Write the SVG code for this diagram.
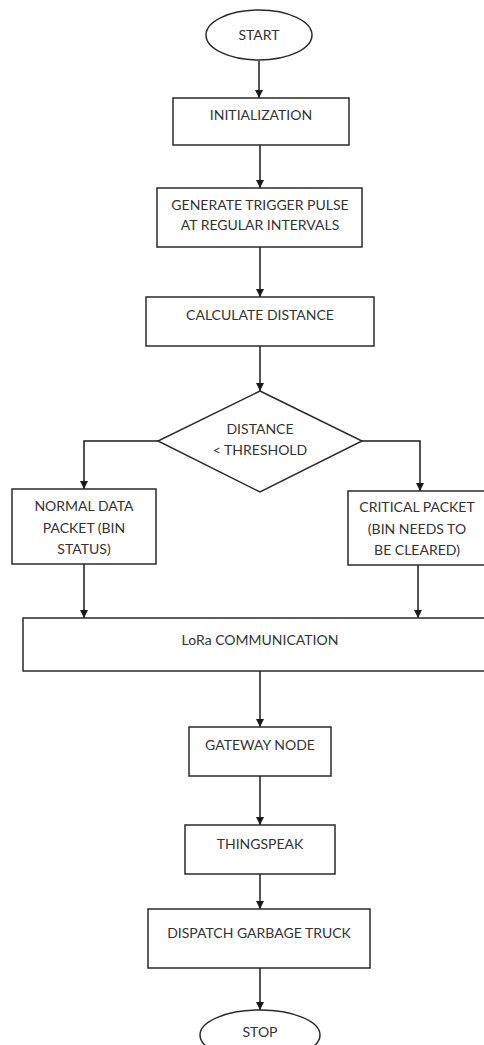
<svg xmlns="http://www.w3.org/2000/svg" width="484" height="1045" viewBox="0 0 484 1045">
<style>
.s{fill:#fff;stroke:#2a2a2a;stroke-width:1.5}
.t{font-family:Lato,"Liberation Sans",sans-serif;font-size:14px;fill:#333;text-anchor:middle}
.c{fill:none;stroke:#1a1a1a;stroke-width:1.5}
</style>
<defs>
<marker id="a" viewBox="0 0 8 10" refX="8" refY="5" markerWidth="8" markerHeight="10" markerUnits="userSpaceOnUse" orient="auto">
<path d="M0,1 L8,5 L0,9 Z" fill="#1a1a1a"/>
</marker>
</defs>
<rect width="484" height="1045" fill="#fff"/>
<g id="connectors">
<line class="c" x1="259" y1="61" x2="259" y2="98" marker-end="url(#a)"/>
<line class="c" x1="260" y1="145" x2="260" y2="188" marker-end="url(#a)"/>
<line class="c" x1="260" y1="247" x2="260" y2="297" marker-end="url(#a)"/>
<line class="c" x1="260" y1="346" x2="260" y2="391" marker-end="url(#a)"/>
<polyline class="c" points="158,441 84,441 84,489" marker-end="url(#a)"/>
<polyline class="c" points="362,441 420,441 420,491" marker-end="url(#a)"/>
<line class="c" x1="84" y1="564" x2="84" y2="618" marker-end="url(#a)"/>
<line class="c" x1="418" y1="565" x2="418" y2="618" marker-end="url(#a)"/>
<line class="c" x1="260" y1="671" x2="260" y2="727" marker-end="url(#a)"/>
<line class="c" x1="260" y1="776" x2="260" y2="825" marker-end="url(#a)"/>
<line class="c" x1="260" y1="874" x2="260" y2="909" marker-end="url(#a)"/>
<line class="c" x1="260" y1="968" x2="260" y2="1010" marker-end="url(#a)"/>
</g>
<g id="start">
<ellipse class="s" cx="259" cy="35" rx="53" ry="25"/>
<text class="t" x="259" y="40">START</text>
</g>
<g id="init">
<rect class="s" x="173" y="98" width="176" height="47"/>
<text class="t" x="261" y="120">INITIALIZATION</text>
</g>
<g id="generate">
<rect class="s" x="157" y="188" width="205" height="59"/>
<text class="t" x="260" y="210">GENERATE TRIGGER PULSE</text>
<text class="t" x="260" y="230">AT REGULAR INTERVALS</text>
</g>
<g id="calculate">
<rect class="s" x="146" y="297" width="228" height="49"/>
<text class="t" x="260" y="320">CALCULATE DISTANCE</text>
</g>
<g id="decision">
<polygon class="s" points="260,391 362,441 260,492 158,441"/>
<text class="t" x="260" y="434">DISTANCE</text>
<text class="t" x="260" y="455">&lt; THRESHOLD</text>
</g>
<g id="normal">
<rect class="s" x="12" y="489" width="144" height="75"/>
<text class="t" x="84" y="511">NORMAL DATA</text>
<text class="t" x="84" y="533">PACKET (BIN</text>
<text class="t" x="84" y="554">STATUS)</text>
</g>
<g id="critical">
<rect class="s" x="348" y="491" width="140" height="74"/>
<text class="t" x="417" y="512">CRITICAL PACKET</text>
<text class="t" x="417" y="534">(BIN NEEDS TO</text>
<text class="t" x="417" y="555">BE CLEARED)</text>
</g>
<g id="lora">
<rect class="s" x="23" y="618" width="465" height="53"/>
<text class="t" x="260" y="645">LoRa COMMUNICATION</text>
</g>
<g id="gateway">
<rect class="s" x="189" y="727" width="142" height="49"/>
<text class="t" x="260" y="750">GATEWAY NODE</text>
</g>
<g id="thingspeak">
<rect class="s" x="185" y="825" width="150" height="49"/>
<text class="t" x="260" y="849">THINGSPEAK</text>
</g>
<g id="dispatch">
<rect class="s" x="148" y="909" width="222" height="59"/>
<text class="t" x="259" y="938">DISPATCH GARBAGE TRUCK</text>
</g>
<g id="stop">
<ellipse class="s" cx="260" cy="1035" rx="60" ry="25"/>
<text class="t" x="260" y="1037">STOP</text>
</g>
</svg>
